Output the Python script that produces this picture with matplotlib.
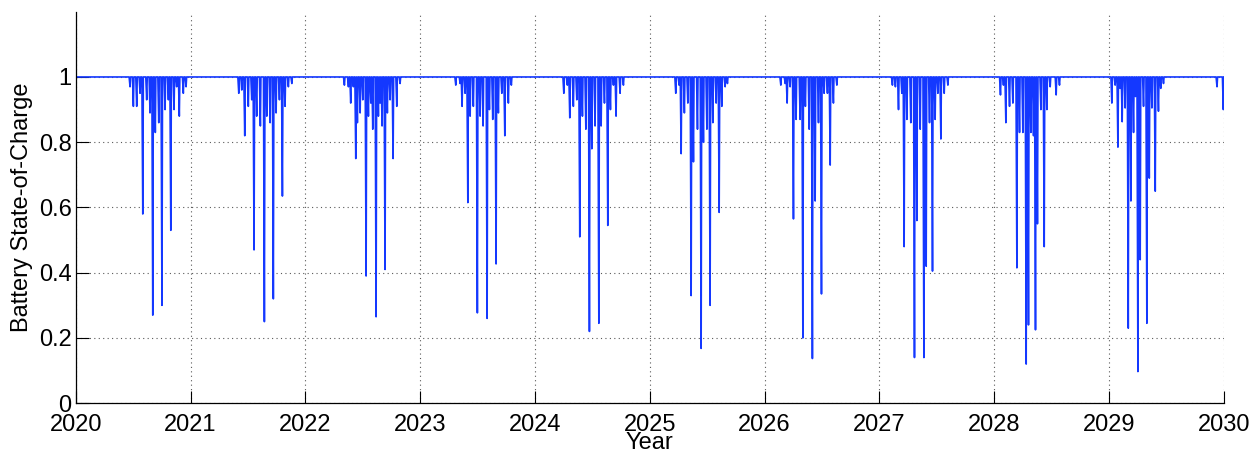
import numpy as np
import matplotlib
matplotlib.use('Agg')
import matplotlib.pyplot as plt

plt.rcParams['font.family'] = ['Liberation Sans', 'DejaVu Sans']

# Discharge events: time (decimal year) and minimum state of charge reached
dip_year = [
    # 2020
    2020.473, 2020.502, 2020.531, 2020.560, 2020.584, 2020.618, 2020.647, 2020.671,
    2020.693, 2020.723, 2020.751, 2020.778, 2020.807, 2020.828, 2020.856, 2020.879,
    2020.902, 2020.937, 2020.961,
    # 2021
    2021.420, 2021.446, 2021.472, 2021.503, 2021.533, 2021.553, 2021.576, 2021.608,
    2021.643, 2021.664, 2021.693, 2021.721, 2021.745, 2021.774, 2021.800, 2021.823,
    2021.852, 2021.882,
    # 2022
    2022.340, 2022.375, 2022.395, 2022.418, 2022.439, 2022.453, 2022.477, 2022.500,
    2022.529, 2022.549, 2022.570, 2022.587, 2022.616, 2022.636, 2022.651, 2022.668,
    2022.694, 2022.714, 2022.738, 2022.764, 2022.796, 2022.825,
    # 2023
    2023.310, 2023.348, 2023.365, 2023.391, 2023.415, 2023.435, 2023.463, 2023.498,
    2023.522, 2023.548, 2023.583, 2023.603, 2023.632, 2023.661, 2023.681, 2023.711,
    2023.737, 2023.768, 2023.794,
    # 2024
    2024.251, 2024.282, 2024.303, 2024.334, 2024.364, 2024.390, 2024.413, 2024.443,
    2024.474, 2024.495, 2024.523, 2024.556, 2024.576, 2024.605, 2024.634, 2024.657,
    2024.683, 2024.706, 2024.741, 2024.770,
    # 2025
    2025.226, 2025.255, 2025.273, 2025.301, 2025.331, 2025.360, 2025.380, 2025.415,
    2025.447, 2025.467, 2025.497, 2025.525, 2025.549, 2025.578, 2025.604, 2025.627,
    2025.656, 2025.676,
    # 2026
    2026.141, 2026.179, 2026.196, 2026.222, 2026.251, 2026.274, 2026.309, 2026.333,
    2026.355, 2026.388, 2026.416, 2026.440, 2026.469, 2026.495, 2026.518, 2026.547,
    2026.571, 2026.599, 2026.629,
    # 2027
    2027.113, 2027.139, 2027.166, 2027.195, 2027.215, 2027.239, 2027.273, 2027.305,
    2027.326, 2027.355, 2027.387, 2027.407, 2027.436, 2027.462, 2027.485, 2027.509,
    2027.535, 2027.564, 2027.596,
    # 2028
    2028.054, 2028.080, 2028.101, 2028.133, 2028.162, 2028.197, 2028.220, 2028.249,
    2028.278, 2028.298, 2028.319, 2028.342, 2028.359, 2028.376, 2028.406, 2028.435,
    2028.458, 2028.487, 2028.539, 2028.568,
    # 2029
    2029.024, 2029.053, 2029.077, 2029.097, 2029.114, 2029.140, 2029.167, 2029.190,
    2029.213, 2029.230, 2029.251, 2029.271, 2029.300, 2029.329, 2029.350, 2029.373,
    2029.402, 2029.430, 2029.450, 2029.474, 2029.940, 2029.995,
]

dip_soc = [
    # 2020
    0.97, 0.91, 0.91, 0.95, 0.58, 0.93, 0.89, 0.27,
    0.83, 0.86, 0.30, 0.90, 0.93, 0.53, 0.90, 0.97,
    0.88, 0.95, 0.97,
    # 2021
    0.95, 0.96, 0.82, 0.91, 0.93, 0.47, 0.88, 0.85,
    0.25, 0.88, 0.86, 0.32, 0.89, 0.93, 0.635, 0.91,
    0.97, 0.98,
    # 2022
    0.975, 0.97, 0.92, 0.97, 0.75, 0.86, 0.89, 0.93,
    0.39, 0.88, 0.92, 0.84, 0.265, 0.88, 0.92, 0.85,
    0.41, 0.89, 0.93, 0.75, 0.91, 0.98,
    # 2023
    0.975, 0.98, 0.91, 0.95, 0.615, 0.88, 0.91, 0.277,
    0.88, 0.85, 0.26, 0.90, 0.87, 0.427, 0.89, 0.95,
    0.82, 0.92, 0.975,
    # 2024
    0.95, 0.975, 0.875, 0.91, 0.93, 0.51, 0.88, 0.84,
    0.22, 0.78, 0.85, 0.245, 0.85, 0.92, 0.545, 0.90,
    0.975, 0.88, 0.95, 0.975,
    # 2025
    0.95, 0.975, 0.765, 0.89, 0.92, 0.33, 0.74, 0.84,
    0.168, 0.80, 0.84, 0.30, 0.86, 0.92, 0.585, 0.91,
    0.97, 0.98,
    # 2026
    0.975, 0.98, 0.92, 0.97, 0.565, 0.87, 0.87, 0.20,
    0.91, 0.84, 0.137, 0.62, 0.86, 0.335, 0.95, 0.95,
    0.73, 0.92, 0.975,
    # 2027
    0.975, 0.97, 0.90, 0.95, 0.48, 0.87, 0.86, 0.14,
    0.56, 0.84, 0.14, 0.42, 0.86, 0.405, 0.87, 0.95,
    0.81, 0.95, 0.975,
    # 2028
    0.945, 0.975, 0.86, 0.91, 0.92, 0.415, 0.83, 0.83,
    0.12, 0.24, 0.83, 0.82, 0.225, 0.55, 0.90, 0.48,
    0.90, 0.97, 0.945, 0.975,
    # 2029
    0.92, 0.975, 0.785, 0.965, 0.863, 0.905, 0.23, 0.62,
    0.83, 0.94, 0.097, 0.44, 0.91, 0.245, 0.69, 0.905,
    0.65, 0.895, 0.965, 0.98, 0.97, 0.90,
]

year_ticks = list(range(2020, 2031))
soc_ticks = [0, 0.2, 0.4, 0.6, 0.8, 1]

# build the time series: full charge between events, a few days of
# discharge down to the minimum and a quick recharge afterwards
half_width = 0.008
t = [2020.0]
soc = [1.0]
for ty, s in zip(dip_year, dip_soc):
    t += [ty - half_width, ty, ty + half_width * 0.6]
    soc += [1.0, s, 1.0]
t.append(2030.0)
soc.append(1.0)

fig = plt.figure(figsize=(12.54, 4.51), dpi=100)
ax = fig.add_axes([0.0604, 0.106, 0.9156, 0.868])

ax.plot(t, soc, color='#1438ff', linewidth=1.2)

ax.set_xlim(2020, 2030)
ax.set_ylim(0, 1.2)
ax.set_xticks(year_ticks)
ax.set_xticklabels([str(y) for y in year_ticks])
ax.set_yticks(soc_ticks)
ax.set_yticklabels(['0', '0.2', '0.4', '0.6', '0.8', '1'])

ax.grid(True, linestyle=(0, (1, 3)), color='0.35', linewidth=0.8)
ax.tick_params(direction='in', length=9, width=0.8, labelsize=17)
ax.tick_params(axis='x', pad=8)
ax.tick_params(axis='y', pad=3)
for side in ['top', 'right']:
    ax.spines[side].set_visible(False)
for side in ['left', 'bottom']:
    ax.spines[side].set_linewidth(0.9)

ax.set_xlabel('Year', fontsize=17, labelpad=-3)
ax.set_ylabel('Battery State-of-Charge', fontsize=17, labelpad=4)

fig.savefig('out.png', dpi=100)
